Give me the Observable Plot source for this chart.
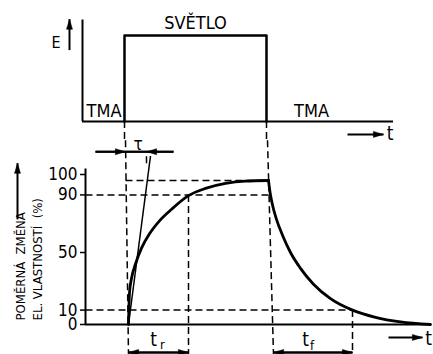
<!DOCTYPE html>
<html>
<head>
<meta charset="utf-8">
<script src="https://cdn.jsdelivr.net/npm/d3@7"></script>
<script src="https://cdn.jsdelivr.net/npm/@observablehq/plot@0.6"></script>
<style>
  html, body { margin: 0; padding: 0; background: white; }
  #chart { width: 433px; height: 354px; }
  #chart svg { display: block; overflow: visible; }
</style>
</head>
<body>
<div id="chart"></div>
<script>
// ---------- data (time in arbitrary units, response in %) ----------
// upper panel: illumination E (0 = dark, 1 = light)
const pulseT = [39, 39, 181, 181];
const pulseE = [0, 1, 1, 0];
// lower panel: relative change of electrical property (%)
const riseT  = [43, 44, 46, 50, 56, 64, 74, 86, 103, 120, 140, 160, 183];
const riseV  = [0, 22, 32, 42, 53, 63, 72, 80, 89.5, 94.5, 98, 99.6, 100];
const decayT = [183, 184.5, 187, 191, 197, 205, 215, 228, 245, 267, 290, 315, 345];
const decayV = [100, 92, 83, 73, 62, 50, 39, 28, 18, 10, 5, 1.8, 0];
const yTicks = [0, 10, 50, 90];
const yTopTick = [100];
const tauEnd = 61;      // time constant τ (tangent reaches 100 %)
const tR90 = 103;       // rise reaches 90 %
const tF10 = 267;       // decay reaches 10 %
const labels = { light: "SVĚTLO", dark: "TMA", e: "E", t: "t", tau: "τ",
  yLine1: "POMĚRNÁ  ZMĚNA", yLine2: "EL. VLASTNOSTÍ  (%)" };

const font = "'DejaVu Sans Condensed', 'DejaVu Sans', 'Liberation Sans', sans-serif";
const dash = "7,4";

// filled, elongated arrow head with its tip at the origin, pointing +x
const head = { draw(ctx, size) {
  const r = Math.sqrt(size / Math.PI);
  ctx.moveTo(0, 0); ctx.lineTo(-r * 2.9, -r * 0.85); ctx.lineTo(-r * 2.9, r * 0.85); ctx.closePath();
}};
function arrowMarks(list) {
  return [
    Plot.link(list, {x1: "x1", y1: "y1", x2: "x2", y2: "y2", stroke: "black", strokeWidth: 2}),
    Plot.dot(list, {x: "hx", y: "hy", symbol: head, r: 3.5, fill: "black", stroke: "black", strokeWidth: 0.5, rotate: "rot"})
  ];
}

// ---------- upper panel ----------
const pulse = pulseT.map((t, i) => ({t, e: pulseE[i]}));
const topArrows = [
  {x1: -16, y1: 0.83, x2: -16, y2: 1.19, hx: -16, hy: 1.19, rot: -90},
  {x1: 262, y1: -0.15, x2: 298, y2: -0.15, hx: 298, hy: -0.15, rot: 0}
];
const topPlot = Plot.plot({
  width: 433, height: 140,
  marginLeft: 85, marginRight: 3, marginTop: 35, marginBottom: 19,
  x: {domain: [0, 345], axis: null},
  y: {domain: [0, 1], axis: null},
  style: {fontFamily: font, color: "black", background: "white", overflow: "visible"},
  marks: [
    Plot.ruleX([-3], {y1: 0, y2: 1.18, stroke: "black", strokeWidth: 2}),
    Plot.ruleY([0], {x1: -3, x2: 308, stroke: "black", strokeWidth: 2}),
    Plot.ruleX([pulseT[0], pulseT[2]], {y1: 0, y2: -0.25, stroke: "black", strokeWidth: 1.5, strokeDasharray: dash}),
    Plot.line(pulse, {x: "t", y: "e", stroke: "black", strokeWidth: 2.5}),
    ...arrowMarks(topArrows),
    Plot.text([labels.light], {x: 110, y: 1.14, text: d => d, fontSize: 18}),
    Plot.text([labels.dark], {x: 18.5, y: 0.12, text: d => d, fontSize: 18}),
    Plot.text([labels.dark], {x: 226, y: 0.12, text: d => d, fontSize: 18}),
    Plot.text([labels.e], {x: -29.5, y: 0.91, text: d => d, fontSize: 16}),
    Plot.text([labels.t], {x: 304.5, y: -0.14, text: d => d, fontSize: 19})
  ]
});

// ---------- lower panel ----------
const rise = riseT.map((t, i) => ({t, v: riseV[i]}));
const decay = decayT.map((t, i) => ({t, v: decayV[i]}));
const yBr = -19.4;
const botArrows = [
  {x1: 10, y1: 120, x2: 88, y2: 120, hx: 40, hy: 120, rot: 0},
  {x1: 10, y1: 120, x2: 88, y2: 120, hx: tauEnd, hy: 120, rot: 180},
  {x1: riseT[0], y1: yBr, x2: tR90, y2: yBr, hx: riseT[0], hy: yBr, rot: 180},
  {x1: riseT[0], y1: yBr, x2: tR90, y2: yBr, hx: tR90, hy: yBr, rot: 0},
  {x1: 188, y1: yBr, x2: tF10, y2: yBr, hx: 188, hy: yBr, rot: 180},
  {x1: 188, y1: yBr, x2: tF10, y2: yBr, hx: tF10, hy: yBr, rot: 0},
  {x1: 303, y1: -9, x2: 337, y2: -9, hx: 337, hy: -9, rot: 0},
  {x1: -68, y1: 73, x2: -68, y2: 112, hx: -68, hy: 112, rot: -90}
];
const dashedLinks = [
  {x1: 40, y1: 128, x2: 43, y2: -21},            // light on
  {x1: 182, y1: 128, x2: 188, y2: -21},          // light off
  {x1: 40, y1: 100, x2: 183, y2: 100},           // 100 %
  {x1: 0, y1: 90, x2: 183, y2: 90},              // 90 %
  {x1: 0, y1: 10, x2: tF10, y2: 10},             // 10 %
  {x1: tR90, y1: 90, x2: tR90, y2: -21},         // t_r end
  {x1: tF10, y1: 10, x2: tF10, y2: -21},         // t_f end
  {x1: tauEnd, y1: 112, x2: tauEnd, y2: 120}     // τ end
];
const bottomPlot = Plot.plot({
  width: 433, height: 214,
  marginLeft: 85, marginRight: 3, marginTop: 40, marginBottom: 30,
  x: {domain: [0, 345], axis: null},
  y: {domain: [0, 100]},
  style: {fontFamily: font, color: "black", background: "white", overflow: "visible"},
  marks: [
    Plot.link(dashedLinks, {x1: "x1", y1: "y1", x2: "x2", y2: "y2", stroke: "black", strokeWidth: 1.5, strokeDasharray: dash}),
    Plot.ruleX([0], {y1: 0, y2: 108, stroke: "black", strokeWidth: 2}),
    Plot.ruleY([0], {x1: 0, x2: 345, stroke: "black", strokeWidth: 2}),
    Plot.axisY(yTicks, {anchor: "left", tickSize: 5, tickPadding: 3, fontSize: 17, label: null, strokeWidth: 1.5, tickFormat: d => d}),
    Plot.axisY(yTopTick, {anchor: "left", tickSize: 5, tickPadding: 3, fontSize: 17, label: null, strokeWidth: 1.5, dy: -6, tickFormat: d => d}),
    Plot.link([{x1: riseT[0], y1: 0, x2: 65, y2: 117}], {x1: "x1", y1: "y1", x2: "x2", y2: "y2", stroke: "black", strokeWidth: 1.5}),
    Plot.line(rise, {x: "t", y: "v", stroke: "black", strokeWidth: 2.8, curve: "monotone-x"}),
    Plot.line(decay, {x: "t", y: "v", stroke: "black", strokeWidth: 2.8, curve: "monotone-x"}),
    ...arrowMarks(botArrows),
    Plot.text([labels.tau], {x: 52.5, y: 125, text: d => d, fontSize: 17}),
    Plot.text([labels.t], {x: 68, y: -11, text: d => d, fontSize: 19}),
    Plot.text(["r"], {x: 77, y: -14, text: d => d, fontSize: 13}),
    Plot.text([labels.t], {x: 220, y: -11, text: d => d, fontSize: 19}),
    Plot.text(["f"], {x: 226.5, y: -15, text: d => d, fontSize: 13}),
    Plot.text([labels.t], {x: 343, y: -10, text: d => d, fontSize: 19}),
    Plot.text([labels.yLine1], {x: -65, y: 2.8, text: d => d, rotate: -90, textAnchor: "start", fontSize: 13}),
    Plot.text([labels.yLine2], {x: -48, y: 2.8, text: d => d, rotate: -90, textAnchor: "start", fontSize: 13})
  ]
});

const chart = document.getElementById("chart");
chart.append(topPlot, bottomPlot);
</script>
</body>
</html>
